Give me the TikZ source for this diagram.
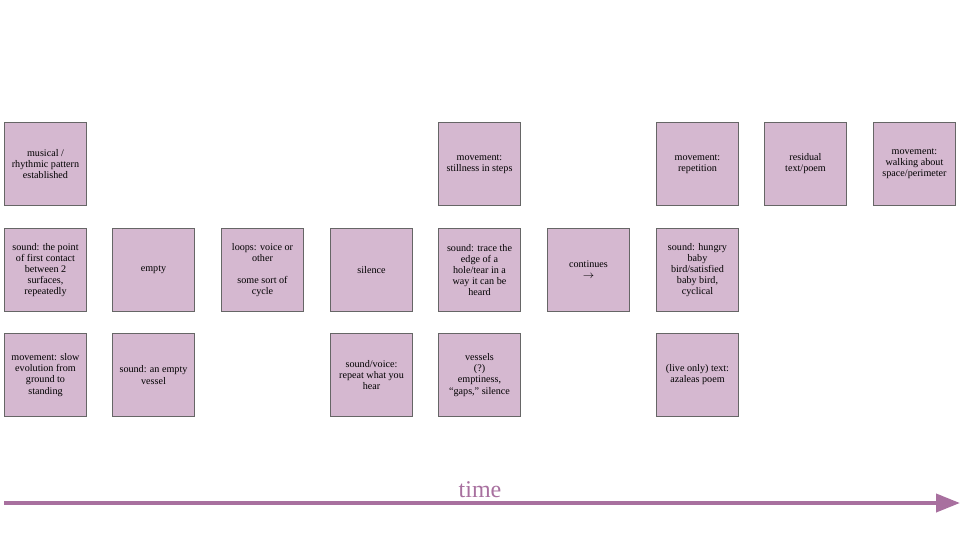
\documentclass[tikz,border=0pt]{standalone}
\usepackage{fontspec}
\setmainfont{Liberation Serif}
\usepackage{tikz}
\usetikzlibrary{calc, shapes, arrows, arrows.meta}
\definecolor{cardfill}{RGB}{213,184,208}
\definecolor{timeline}{RGB}{168,112,159}

\begin{document}
\begin{tikzpicture}[x=0.75pt,y=-0.75pt]
\tikzstyle{card}=[rectangle,draw=black!60,fill=cardfill,line width=0.6pt,minimum width=61.8pt,minimum height=62.6pt,inner sep=1pt,align=center,font=\fontsize{7.6}{8.3}\selectfont]
\useasboundingbox (0,0) rectangle (960,540);
% top row
\node[card] (A_0) at (45.5,164)  {musical /\\rhythmic pattern\\established};
\node[card] (A_4) at (479.5,164) {movement:\\stillness in steps};
\node[card] (A_6) at (697.5,164) {movement:\\repetition};
\node[card] (A_7) at (805.5,164) {residual\\text/poem};
\node[card] (A_8) at (914.5,164) {movement:\\walking about\\space/perimeter};
% middle row
\node[card] (B_0) at (45.5,270)  {sound: the point\\of first contact\\between 2\\surfaces,\\repeatedly};
\node[card] (B_1) at (153.5,270) {empty};
\node[card] (B_2) at (262.5,270) {loops: voice or\\other\\[8.3pt]some sort of\\cycle};
\node[card] (B_3) at (371.5,270) {silence};
\node[card] (B_4) at (479.5,270) {sound: trace the\\edge of a\\hole/tear in a\\way it can be\\heard};
\node[card] (B_5) at (588.5,270) {continues\\$\rightarrow$};
\node[card] (B_6) at (697.5,270) {sound: hungry\\baby\\bird/satisfied\\baby bird,\\cyclical};
% bottom row
\node[card] (C_0) at (45.5,375)  {movement: slow\\evolution from\\ground to\\standing};
\node[card] (C_1) at (153.5,375) {sound: an empty\\vessel};
\node[card] (C_3) at (371.5,375) {sound/voice:\\repeat what you\\hear};
\node[card] (C_4) at (479.5,375) {vessels\\(?)\\emptiness,\\“gaps,” silence};
\node[card] (C_6) at (697.5,375) {(live only) text:\\azaleas poem};
% time axis
\coordinate (T_start) at (4,503);
\coordinate (T_end) at (960,503);
\draw[timeline,line width=3pt,-{Triangle[length=18pt,width=13.5pt]}] (T_start) -- (T_end);
\node[text=timeline,font=\fontsize{18}{20}\selectfont] (T_label) at (480,490) {time};
\end{tikzpicture}
\end{document}
